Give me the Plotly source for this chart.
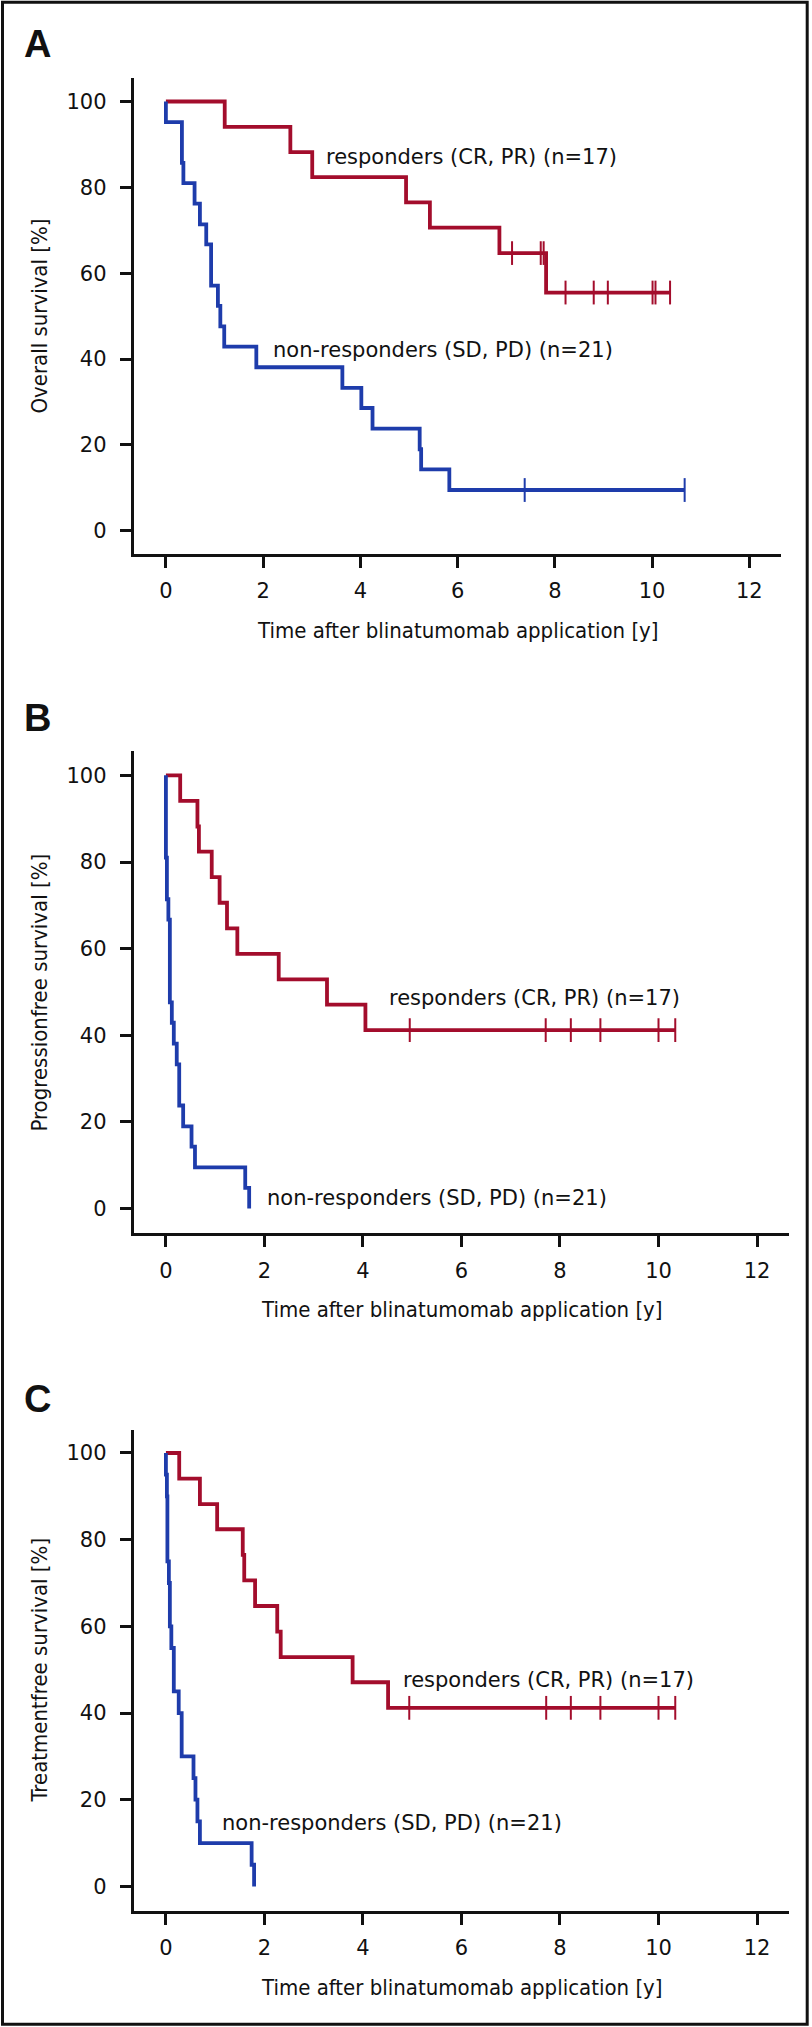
import plotly.graph_objects as go

# ---------------- data ----------------
x_ticks = [0, 2, 4, 6, 8, 10, 12]
y_ticks = [0, 20, 40, 60, 80, 100]
group_names = ["responders (CR, PR) (n=17)", "non-responders (SD, PD) (n=21)"]
panel_letters = ["A", "B", "C"]
y_titles = ["Overall survival [%]", "Progressionfree survival [%]", "Treatmentfree survival [%]"]
x_title = "Time after blinatumomab application [y]"

# Panel A: overall survival
A_resp_t = [1.21, 2.56, 3.01, 4.94, 5.43, 6.86, 7.82]
A_resp_s = [94.1, 88.2, 82.4, 76.5, 70.6, 64.7, 55.5]
A_resp_cens = [7.12, 7.71, 7.77, 8.22, 8.80, 9.09, 10.01, 10.07, 10.37]
A_non_t = [0.0, 0.33, 0.36, 0.59, 0.70, 0.83, 0.93, 1.07, 1.12, 1.20, 1.86, 3.63, 4.02, 4.25, 5.22, 5.25, 5.83]
A_non_s = [95.2, 85.7, 81.0, 76.2, 71.4, 66.7, 57.1, 52.4, 47.6, 42.9, 38.1, 33.3, 28.6, 23.8, 19.0, 14.3, 9.5]
A_non_cens = [7.38, 10.67]

# Panel B: progression-free survival
B_resp_t = [0.29, 0.64, 0.67, 0.93, 1.09, 1.24, 1.45, 2.29, 3.27, 4.05]
B_resp_s = [94.1, 88.2, 82.4, 76.5, 70.6, 64.7, 58.8, 52.9, 47.1, 41.2]
B_resp_cens = [4.95, 7.71, 8.22, 8.82, 10.0, 10.34]
B_non_t = [0.0, 0.02, 0.05, 0.08, 0.12, 0.16, 0.22, 0.27, 0.35, 0.52, 0.59, 1.61, 1.69]
B_non_s = [81.0, 71.4, 66.7, 47.6, 42.9, 38.1, 33.3, 23.8, 19.0, 14.3, 9.5, 4.8, 0.0]
B_non_cens = []

# Panel C: treatment-free survival
C_resp_t = [0.27, 0.69, 1.04, 1.56, 1.59, 1.81, 2.26, 2.33, 3.79, 4.51]
C_resp_s = [94.1, 88.2, 82.4, 76.5, 70.6, 64.7, 58.8, 52.9, 47.1, 41.2]
C_resp_cens = [4.94, 7.72, 8.22, 8.82, 10.0, 10.34]
C_non_t = [0.0, 0.02, 0.03, 0.06, 0.08, 0.11, 0.16, 0.26, 0.32, 0.56, 0.60, 0.64, 0.69, 1.74, 1.79]
C_non_s = [95.0, 90.0, 75.0, 70.0, 60.0, 55.0, 45.0, 40.0, 30.0, 25.0, 20.0, 15.0, 10.0, 5.0, 0.0]
C_non_cens = []

# ---------------- layout config (pixels in the 812 x 2027 page) ----------------
W, H = 812, 2027
RED = "#a30d2c"
BLUE = "#1e3cab"
TICK_FONT = "DejaVu Sans"
TITLE_FONT = "DejaVu Sans Condensed, DejaVu Sans, sans-serif"

panels = [
    dict(data=[(A_resp_t, A_resp_s, A_resp_cens), (A_non_t, A_non_s, A_non_cens)],
         px_x=(133.8, 781.4), px_y=(78.1, 554.2), xr=[-0.66, 12.66], yr=[-5.45, 105.45],
         label_pos=[(3.25, 87.0), (2.17, 42.2)], letter_y=44),
    dict(data=[(B_resp_t, B_resp_s, B_resp_cens), (B_non_t, B_non_s, B_non_cens)],
         px_x=(133.8, 789.2), px_y=(751.1, 1233.3), xr=[-0.652, 12.653], yr=[-5.7, 105.6],
         label_pos=[(4.49, 48.7), (2.01, 2.5)], letter_y=718),
    dict(data=[(C_resp_t, C_resp_s, C_resp_cens), (C_non_t, C_non_s, C_non_cens)],
         px_x=(133.8, 789.2), px_y=(1429.8, 1910.5), xr=[-0.652, 12.653], yr=[-5.56, 105.35],
         label_pos=[(4.78, 47.6), (1.09, 14.6)], letter_y=1399),
]
colors = [RED, BLUE]


def km_value(times, levels, t):
    v = 100.0
    for ti, li in zip(times, levels):
        if ti <= t:
            v = li
    return v


fig = go.Figure()
annotations = []
layout_axes = {}

for i, p in enumerate(panels):
    k = "" if i == 0 else str(i + 1)
    xa, ya = "x" + k, "y" + k
    for g, (times, levels, cens) in enumerate(p["data"]):
        xs = [0.0] + list(times)
        ys = [100.0] + list(levels)
        if cens and max(cens) > xs[-1]:
            xs.append(max(cens))
            ys.append(ys[-1])
        fig.add_trace(go.Scatter(x=xs, y=ys, mode="lines", line=dict(color=colors[g], width=3.8, shape="hv"),
                                 xaxis=xa, yaxis=ya, showlegend=False, hoverinfo="skip"))
        if cens:
            fig.add_trace(go.Scatter(x=cens, y=[km_value(times, levels, c) for c in cens], mode="markers",
                                     marker=dict(symbol="line-ns", size=17, color=colors[g],
                                                 line=dict(color=colors[g], width=2)),
                                     xaxis=xa, yaxis=ya, showlegend=False, hoverinfo="skip"))
        lx, ly = p["label_pos"][g]
        annotations.append(dict(x=lx, y=ly, xref=xa, yref=ya, text=group_names[g], showarrow=False,
                                xanchor="left", yanchor="middle",
                                font=dict(family=TICK_FONT, size=21, color="#111")))

    x0, x1 = p["px_x"]
    y0, y1 = p["px_y"]
    axis_common = dict(showgrid=False, zeroline=False, showline=True, linecolor="#111", linewidth=3,
                       ticks="outside", ticklen=11, tickwidth=2.5, tickcolor="#111",
                       tickfont=dict(family=TICK_FONT, size=21, color="#111"))
    layout_axes["xaxis" + k] = dict(axis_common, domain=[x0 / W, x1 / W], range=p["xr"],
                                    tickvals=x_ticks, anchor=ya, ticklabelstandoff=5)
    layout_axes["yaxis" + k] = dict(axis_common, domain=[1 - y1 / H, 1 - y0 / H], range=p["yr"],
                                    tickvals=y_ticks, anchor=xa, ticklabelstandoff=9)
    # axis titles
    annotations.append(dict(x=(x0 + x1) / 2 / W, y=1 - (y1 + 76.5) / H, xref="paper", yref="paper",
                            text=x_title, showarrow=False, xanchor="center", yanchor="middle",
                            font=dict(family=TITLE_FONT, size=22, color="#111")))
    annotations.append(dict(x=39.4 / W, y=1 - (y0 + y1) / 2 / H, xref="paper", yref="paper",
                            text=y_titles[i], showarrow=False, xanchor="center", yanchor="middle",
                            textangle=-90, font=dict(family=TITLE_FONT, size=22, color="#111")))
    # panel letter
    annotations.append(dict(x=22 / W, y=1 - p["letter_y"] / H, xref="paper", yref="paper",
                            text="<b>" + panel_letters[i] + "</b>", showarrow=False,
                            xanchor="left", yanchor="middle",
                            font=dict(family="Liberation Sans, Arial, sans-serif", size=38, color="#111")))

fig.update_layout(
    width=W, height=H, margin=dict(l=0, r=0, t=0, b=0),
    paper_bgcolor="white", plot_bgcolor="white",
    annotations=annotations,
    shapes=[dict(type="rect", xref="paper", yref="paper",
                 x0=2.5 / W, x1=807.2 / W, y0=1 - 2024.2 / H, y1=1 - 2.2 / H,
                 line=dict(color="#111", width=3))],
    **layout_axes,
)

# remove the browser's default 8px page margin so the figure fills the window exactly
fig.write_html("out.html", config={"displayModeBar": False},
               post_script="document.body.style.margin='0';document.documentElement.style.overflow='hidden';")
